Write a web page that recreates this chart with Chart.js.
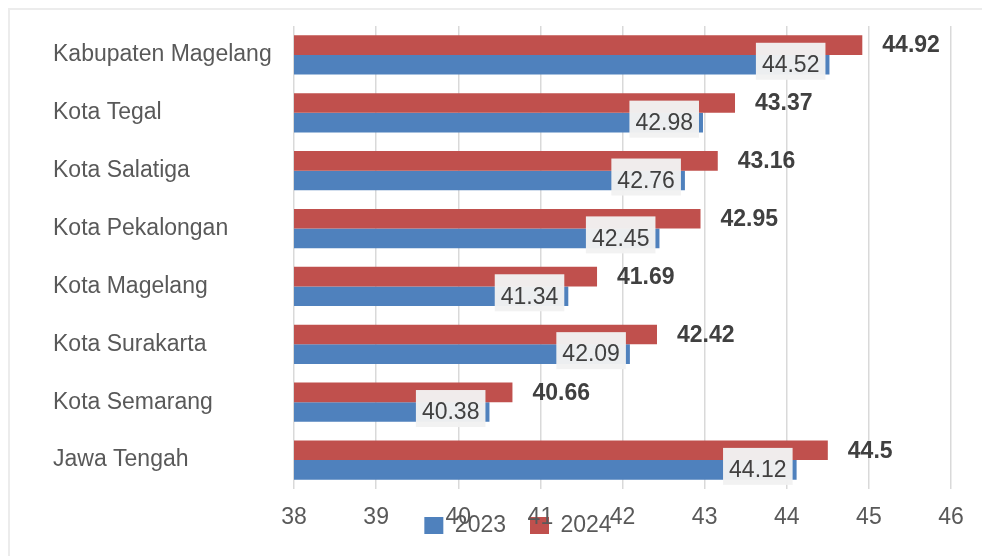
<!DOCTYPE html>
<html>
<head>
<meta charset="utf-8">
<title>Jawa Tengah 2023 - 2024</title>
<script src="https://cdn.jsdelivr.net/npm/chart.js@4.4.1/dist/chart.umd.min.js"></script>
<style>
  body { margin: 0; background: #fff; }
  #wrap { position: relative; width: 982px; height: 556px; }
  #frame {
    position: absolute; left: 8px; top: 8px; right: 0; bottom: 0;
    border-top: 2px solid #ececec; border-left: 2px solid #ececec;
  }
  #chart { position: absolute; left: 0; top: 0; }
</style>
</head>
<body>
<div id="wrap">
  <div id="frame"></div>
  <canvas id="chart" width="982" height="556"></canvas>
</div>
<script>
const cities = ['Kabupaten Magelang', 'Kota Tegal', 'Kota Salatiga', 'Kota Pekalongan',
  'Kota Magelang', 'Kota Surakarta', 'Kota Semarang', 'Jawa Tengah'];
const values2023 = [44.52, 42.98, 42.76, 42.45, 41.34, 42.09, 40.38, 44.12];
const values2024 = [44.92, 43.37, 43.16, 42.95, 41.69, 42.42, 40.66, 44.5];
const xMin = 38;
const xMax = 46;

const FONT = '"Liberation Sans", Arial, sans-serif';

// value labels: bold text after the 2024 bar, boxed text inside the end of the 2023 bar
const barLabels = {
  id: 'barLabels',
  afterLayout(chart) {
    // legend sits a bit right of centre, over the axis numbers
    chart.legend.left += 16;
    chart.legend.right += 16;
  },
  afterDatasetsDraw(chart) {
    const ctx = chart.ctx;
    ctx.save();
    ctx.textBaseline = 'middle';

    chart.getDatasetMeta(0).data.forEach((bar, i) => {
      ctx.font = 'bold 23px ' + FONT;
      ctx.fillStyle = '#404040';
      ctx.textAlign = 'left';
      ctx.fillText(String(values2024[i]), bar.x + 20, bar.y + 1);
    });

    chart.getDatasetMeta(1).data.forEach((bar, i) => {
      const text = String(values2023[i]);
      ctx.font = '23px ' + FONT;
      const w = ctx.measureText(text).width + 12;
      const right = bar.x - 4;
      ctx.fillStyle = 'rgba(242,242,242,0.97)';
      ctx.fillRect(right - w, bar.y - 22, w, 37);
      ctx.fillStyle = '#404040';
      ctx.textAlign = 'center';
      ctx.fillText(text, right - w / 2, bar.y + 1);
    });
    ctx.restore();
  }
};

new Chart(document.getElementById('chart'), {
  type: 'bar',
  data: {
    labels: cities,
    datasets: [
      {
        label: '2024',
        data: values2024,
        backgroundColor: '#C0504D',
        categoryPercentage: 0.68,
        barPercentage: 1.0
      },
      {
        label: '2023',
        data: values2023,
        backgroundColor: '#4F81BD',
        categoryPercentage: 0.68,
        barPercentage: 1.0
      }
    ]
  },
  options: {
    indexAxis: 'y',
    responsive: false,
    animation: false,
    devicePixelRatio: 1,
    layout: {
      padding: { left: 53, top: 26, right: 31, bottom: 9 }
    },
    scales: {
      x: {
        min: xMin,
        max: xMax,
        ticks: {
          stepSize: 1,
          mirror: true,
          padding: -42,
          color: '#595959',
          font: { family: FONT, size: 23 }
        },
        grid: { color: '#d9d9d9', lineWidth: 1.5, drawTicks: false },
        border: { display: false },
        afterFit(scale) { scale.height = 1; }
      },
      y: {
        ticks: {
          crossAlign: 'far',
          color: '#595959',
          font: { family: FONT, size: 23 }
        },
        grid: { display: false },
        border: { display: false },
        afterFit(scale) { scale.width = 241; }
      }
    },
    plugins: {
      legend: {
        position: 'bottom',
        labels: {
          boxWidth: 19,
          boxHeight: 17,
          padding: 24,
          color: '#595959',
          font: { family: FONT, size: 23 },
          sort: (a, b) => b.datasetIndex - a.datasetIndex
        }
      },
      tooltip: { enabled: false }
    }
  },
  plugins: [barLabels]
});
</script>
</body>
</html>
